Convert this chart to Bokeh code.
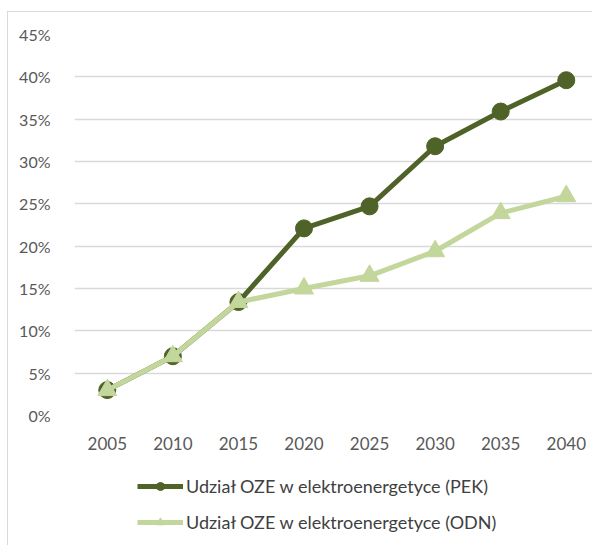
from bokeh.plotting import figure
from bokeh.layouts import column
from bokeh.models import ColumnDataSource, Legend, LegendItem, NumeralTickFormatter, FixedTicker, Range1d
from bokeh.embed import file_html
from bokeh.resources import INLINE

years = [2005, 2010, 2015, 2020, 2025, 2030, 2035, 2040]
pek = [0.030, 0.070, 0.134, 0.221, 0.247, 0.318, 0.359, 0.396]
odn = [0.030, 0.070, 0.134, 0.150, 0.165, 0.194, 0.239, 0.259]
label_pek = "Udział OZE w elektroenergetyce (PEK)"
label_odn = "Udział OZE w elektroenergetyce (ODN)"
y_ticks = [0, 0.05, 0.10, 0.15, 0.20, 0.25, 0.30, 0.35, 0.40, 0.45]

DARK = "#4f6228"
LIGHT = "#c3d69b"
FONT = "Lato"

src = ColumnDataSource(dict(x=years, pek=pek, odn=odn))

p = figure(width=584, height=440, output_backend="svg", toolbar_location=None,
           x_range=Range1d(2002.5, 2042.0), y_range=Range1d(0, 0.45),
           min_border_left=66, min_border_right=0, min_border_top=22, min_border_bottom=10)
p.outline_line_color = None

l1 = p.line("x", "odn", source=src, line_color=LIGHT, line_width=5)
s1 = p.scatter("x", "odn", source=src, marker="triangle", size=19, fill_color=LIGHT, line_color=LIGHT)
l2 = p.line("x", "pek", source=src, line_color=DARK, line_width=5)
s2 = p.scatter("x", "pek", source=src, marker="circle", size=17, fill_color=DARK, line_color=DARK)
p.renderers = [l2, s2, l1, s1]

p.xaxis.ticker = FixedTicker(ticks=years)
p.xaxis.axis_line_color = None
p.xaxis.major_tick_line_color = None
p.xaxis.minor_tick_line_color = None
p.xaxis.major_label_text_font = FONT
p.xaxis.major_label_text_font_size = "17px"
p.xaxis.major_label_text_color = "#595959"
p.xaxis.major_label_standoff = 15

p.yaxis.ticker = FixedTicker(ticks=y_ticks)
p.yaxis.formatter = NumeralTickFormatter(format="0%")
p.yaxis.axis_line_color = None
p.yaxis.major_tick_line_color = None
p.yaxis.minor_tick_line_color = None
p.yaxis.major_label_text_font = FONT
p.yaxis.major_label_text_font_size = "16px"
p.yaxis.major_label_text_color = "#595959"
p.yaxis.major_label_standoff = 18

p.xgrid.grid_line_color = None
p.ygrid.grid_line_color = "#d9d9d9"
p.ygrid.grid_line_width = 1.5

# legend panel (its series lie outside this panel's ranges, only the legend shows)
q = figure(width=584, height=93, output_backend="svg", toolbar_location=None,
           x_range=Range1d(0, 1), y_range=Range1d(0, 1),
           x_axis_type=None, y_axis_type=None,
           min_border_left=0, min_border_right=0, min_border_top=0, min_border_bottom=0)
q.outline_line_color = None
q.xgrid.grid_line_color = None
q.ygrid.grid_line_color = None
ql2 = q.line("x", "pek", source=src, line_color=DARK, line_width=5)
qs2 = q.scatter("x", "pek", source=src, marker="circle", size=17, fill_color=DARK, line_color=DARK)
ql1 = q.line("x", "odn", source=src, line_color=LIGHT, line_width=5)
qs1 = q.scatter("x", "odn", source=src, marker="triangle", size=19, fill_color=LIGHT, line_color=LIGHT)

legend = Legend(items=[LegendItem(label=label_pek, renderers=[ql2, qs2]),
                       LegendItem(label=label_odn, renderers=[ql1, qs1])],
                orientation="vertical", location=(63, 12),
                glyph_width=46, glyph_height=20, label_standoff=3, spacing=14,
                label_text_font=FONT, label_text_font_size="18px", label_text_color="#404040",
                border_line_color=None, background_fill_alpha=0, padding=5, margin=0)
q.add_layout(legend, "center")

layout = column(p, q, spacing=0, margin=(11, 0, 0, 7),
                styles={"border-left": "1px solid #d9d9d9", "border-top": "1px solid #d9d9d9"})

open("out.html", "w").write(file_html(layout, INLINE))
